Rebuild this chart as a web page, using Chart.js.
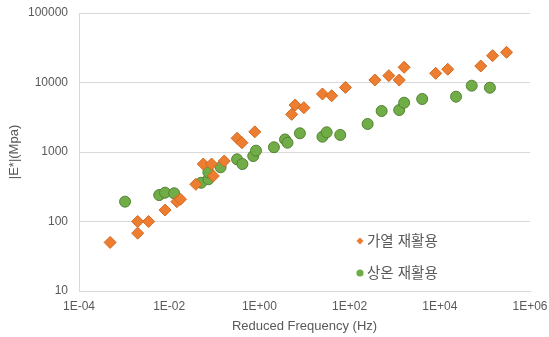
<!DOCTYPE html>
<html>
<head>
<meta charset="utf-8">
<script src="https://cdn.jsdelivr.net/npm/chart.js@4.4.1/dist/chart.umd.min.js"></script>
<style>
  html, body { margin: 0; padding: 0; background: #fff; }
  #wrap { width: 549px; height: 337px; }
</style>
</head>
<body>
<div id="wrap"><canvas id="modulusChart"></canvas></div>
<script>
// 가열 재활용 (hot recycled)
const hotFreq = [0.00049, 0.002, 0.002, 0.0035, 0.0081, 0.0148, 0.0178, 0.039, 0.057, 0.087, 0.095, 0.166,
  0.32, 0.41, 0.79, 5.2, 6.2, 9.7, 25, 40, 81, 363, 741, 1260, 1620, 8100, 15000, 81000, 148000, 302000];
const hotModulus = [50, 100, 68, 100, 146, 193, 209, 343, 671, 671, 452, 741,
  1574, 1360, 1950, 3480, 4740, 4340, 6840, 6450, 8500, 10860, 12540, 10860, 16550, 13550, 15500, 17270, 24300, 27200];

// 상온 재활용 (cold recycled)
const coldFreq = [0.00105, 0.006, 0.0081, 0.0129, 0.051, 0.074, 0.074, 0.138, 0.32, 0.42, 0.73, 0.84,
  2.1, 3.7, 4.2, 7.9, 25, 31, 62, 251, 513, 1260, 1620, 4070, 22900, 51000, 129000];
const coldModulus = [193, 240, 260, 255, 361, 405, 510, 603, 785, 671, 875, 1045,
  1170, 1515, 1360, 1860, 1660, 1920, 1760, 2530, 3890, 4020, 5120, 5790, 6250, 9000, 8410];

const xTicks = [1e-4, 1e-2, 1, 1e2, 1e4, 1e6];
const xTickLabels = ['1E-04', '1E-02', '1E+00', '1E+02', '1E+04', '1E+06'];
const yTicks = [10, 100, 1000, 10000, 100000];
const yTickLabels = ['10', '100', '1000', '10000', '100000'];

const seriesNames = ['가열 재활용', '상온 재활용'];

const FONT = '"Liberation Sans", "Noto Sans CJK KR", Arial, sans-serif';
const GREY = '#595959';

function toPoints(xs, ys) {
  return xs.map((x, i) => ({ x: x, y: ys[i] }));
}

// legend drawn inside the plot, lower right, like the Excel original
const insideLegend = {
  id: 'insideLegend',
  afterDraw(chart) {
    const ctx = chart.ctx;
    const area = chart.chartArea;
    const x0 = area.left + 281;
    const y0 = area.top + 228;
    ctx.save();
    ctx.font = '14.5px ' + FONT;
    ctx.textBaseline = 'middle';
    chart.data.datasets.forEach((ds, i) => {
      const y = y0 + i * 32;
      ctx.fillStyle = ds.backgroundColor;
      ctx.beginPath();
      if (ds.pointStyle === 'rectRot') {
        ctx.moveTo(x0, y - 3.5);
        ctx.lineTo(x0 + 3.5, y);
        ctx.lineTo(x0, y + 3.5);
        ctx.lineTo(x0 - 3.5, y);
        ctx.closePath();
      } else {
        ctx.arc(x0, y, 3.6, 0, Math.PI * 2);
      }
      ctx.fill();
      ctx.fillStyle = GREY;
      ctx.fillText(ds.label, x0 + 7, y + 1);
    });
    ctx.restore();
  }
};

const chart = new Chart(document.getElementById('modulusChart'), {
  type: 'scatter',
  data: {
    datasets: [
      {
        label: seriesNames[0],
        data: toPoints(hotFreq, hotModulus),
        pointStyle: 'rectRot',
        backgroundColor: '#ED7D31',
        borderColor: '#D2691E',
        borderWidth: 1,
        pointRadius: 6,
        pointHoverRadius: 6
      },
      {
        label: seriesNames[1],
        data: toPoints(coldFreq, coldModulus),
        pointStyle: 'circle',
        backgroundColor: '#70AD47',
        borderColor: '#548235',
        borderWidth: 1,
        pointRadius: 5.5,
        pointHoverRadius: 5.5
      }
    ]
  },
  options: {
    responsive: true,
    maintainAspectRatio: false,
    animation: false,
    layout: { padding: { top: 13, right: 19, left: 0, bottom: 0 } },
    plugins: {
      legend: { display: false },
      tooltip: { enabled: false }
    },
    scales: {
      x: {
        type: 'logarithmic',
        min: 1e-4,
        max: 1e6,
        afterBuildTicks: s => { s.ticks = xTicks.map(v => ({ value: v })); },
        afterFit: s => {
          s.height = 46;
          s.paddingLeft = 0;
          s.paddingRight = 0;
        },
        grid: { display: false, drawTicks: false },
        border: { display: true, color: '#D9D9D9', width: 1 },
        ticks: {
          color: GREY,
          font: { family: FONT, size: 12 },
          padding: 8,
          maxRotation: 0,
          autoSkip: false,
          callback: (v, i) => xTickLabels[i]
        },
        title: {
          display: true,
          text: 'Reduced Frequency (Hz)',
          color: GREY,
          font: { family: FONT, size: 13 },
          padding: { top: 0, bottom: 3 }
        }
      },
      y: {
        type: 'logarithmic',
        min: 10,
        max: 100000,
        afterBuildTicks: s => { s.ticks = yTicks.map(v => ({ value: v })); },
        afterFit: s => {
          s.width = 79;
          s.paddingTop = 0;
          s.paddingBottom = 0;
        },
        grid: { color: '#D9D9D9', drawTicks: false },
        border: { display: true, color: '#D9D9D9', width: 1 },
        ticks: {
          color: GREY,
          font: { family: FONT, size: 12 },
          padding: 11,
          autoSkip: false,
          callback: (v, i) => yTickLabels[i]
        },
        title: {
          display: true,
          text: '|E*|(Mpa)',
          color: GREY,
          font: { family: FONT, size: 13 },
          padding: { top: 7, bottom: 0 }
        }
      }
    }
  },
  plugins: [insideLegend]
});
</script>
</body>
</html>
